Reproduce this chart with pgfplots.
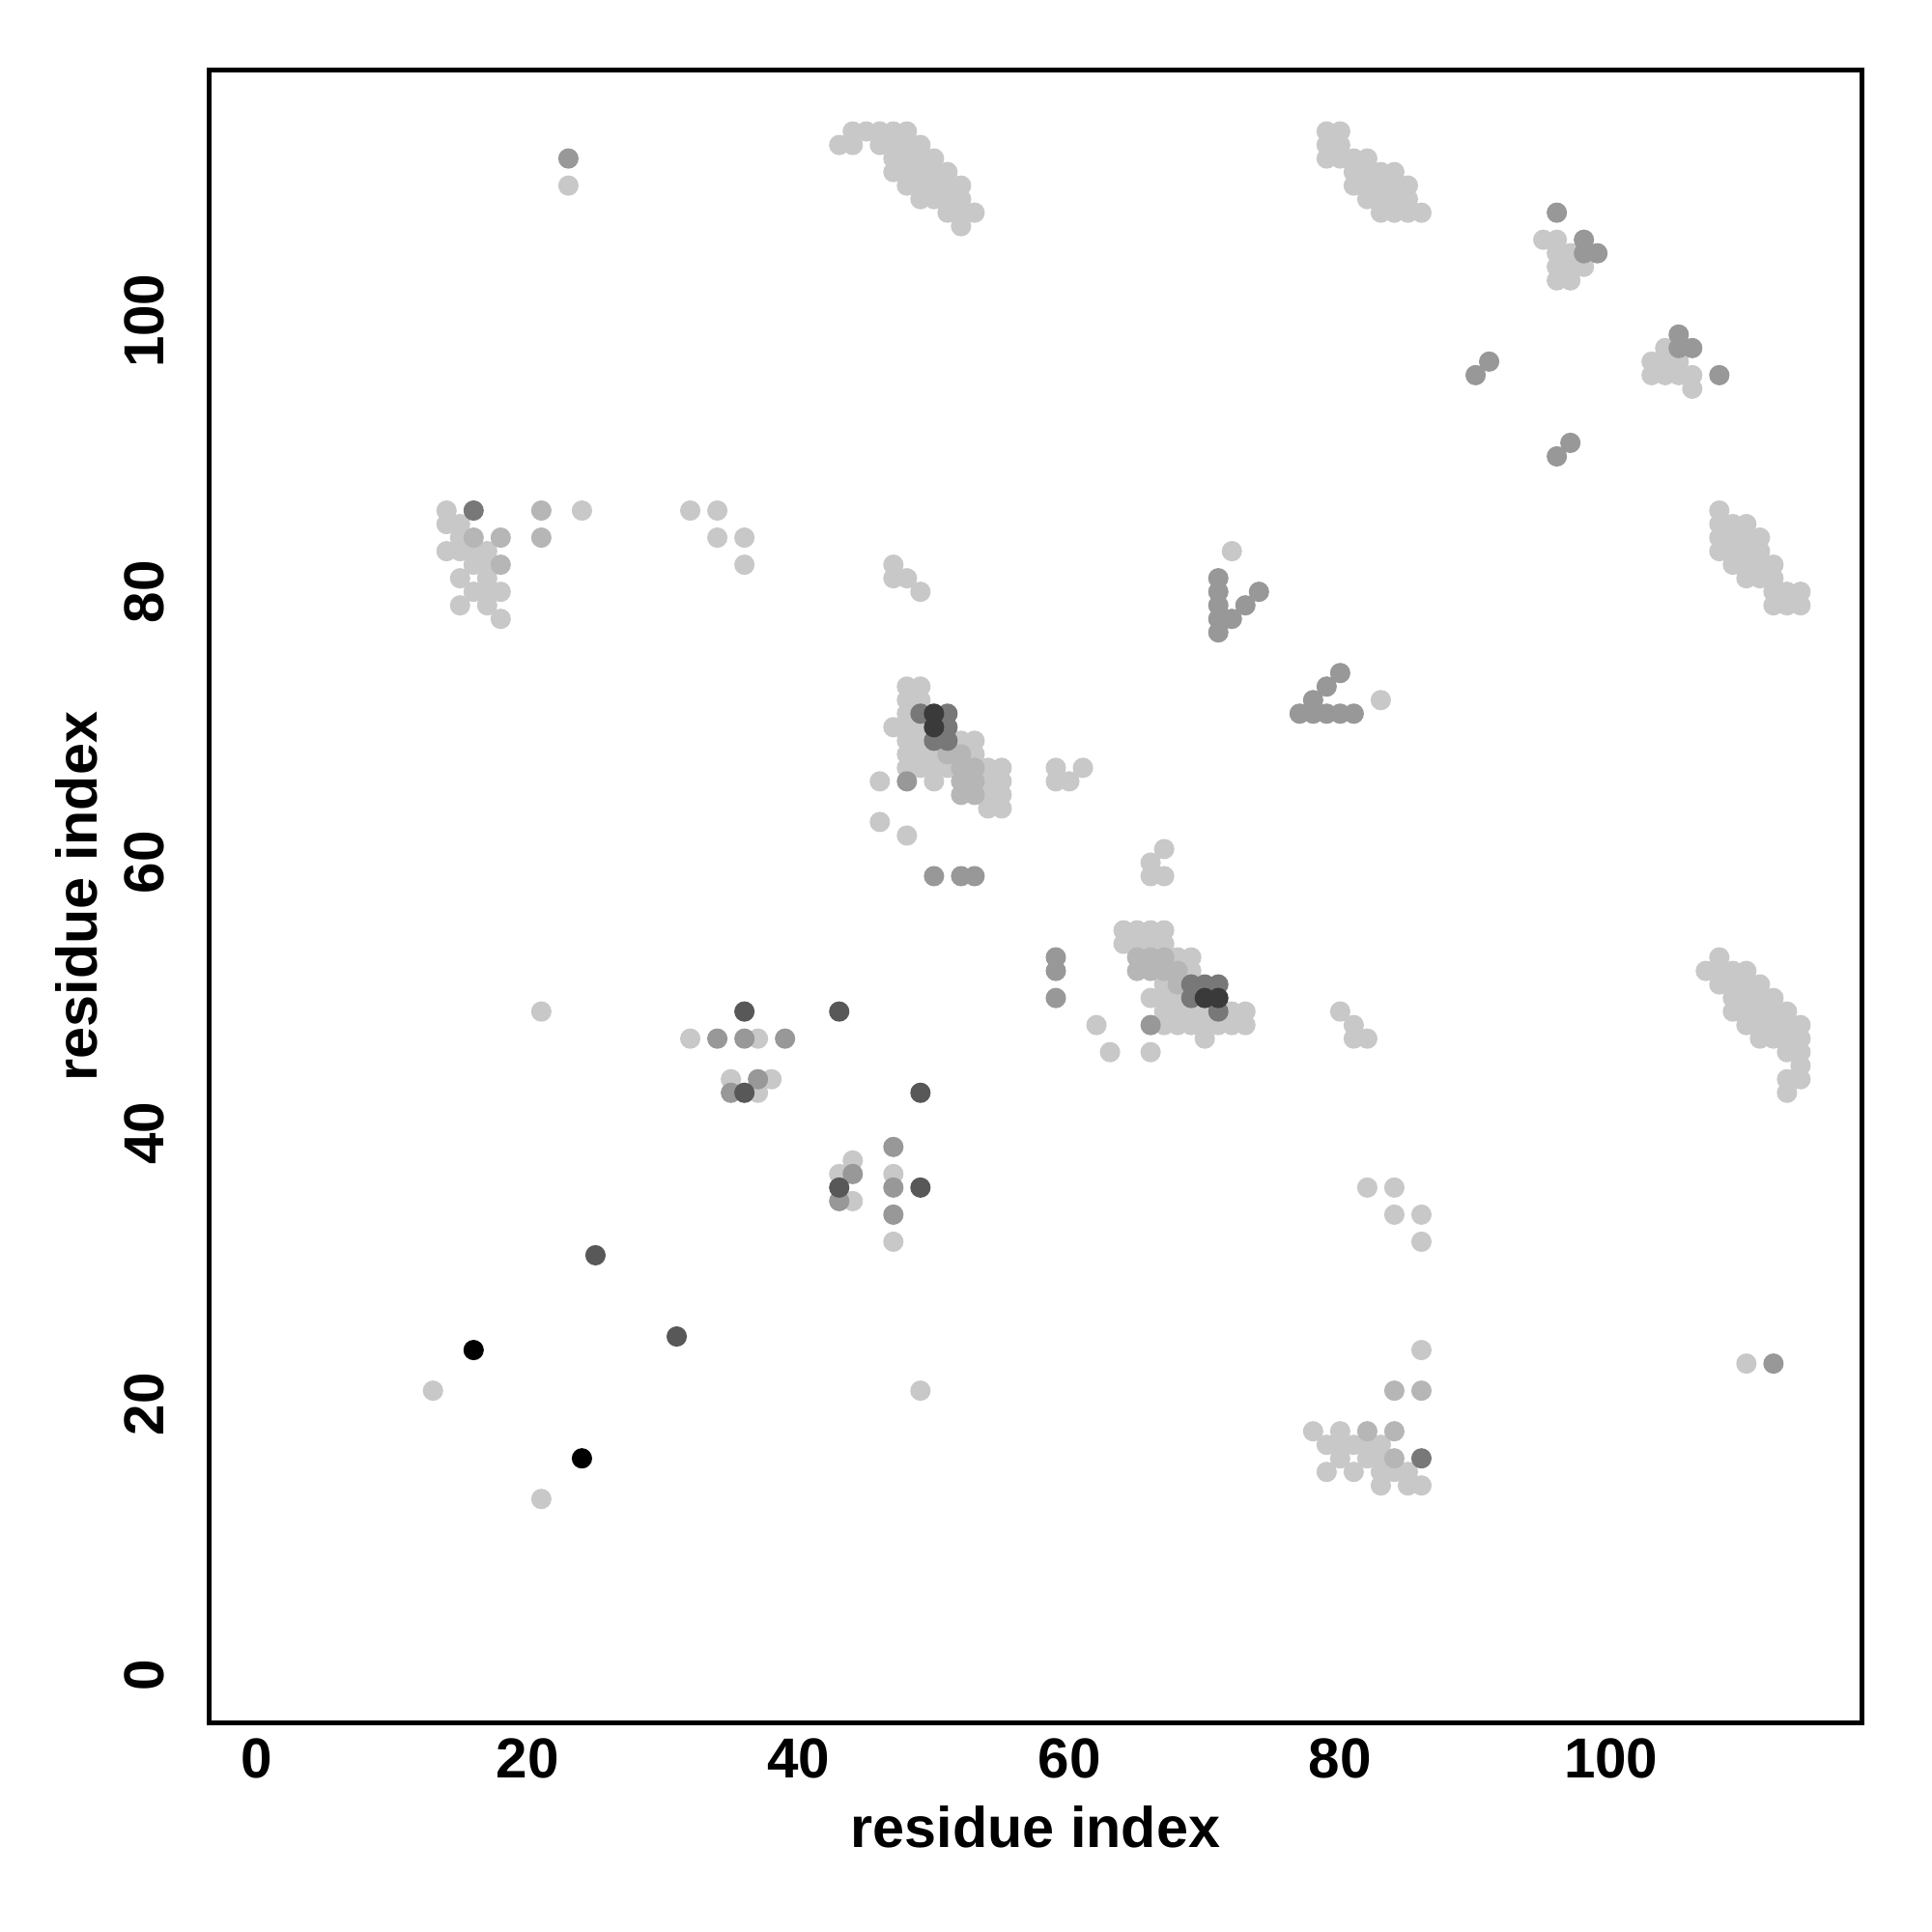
\documentclass[border=0pt]{standalone}
\usepackage{fontspec}
\setmainfont{Liberation Sans}
\usepackage{pgfplots}
\usepackage{pgfplotstable}
\pgfplotsset{compat=1.18}
\definecolor{c1}{RGB}{200,200,200}
\definecolor{c2}{RGB}{182,182,182}
\definecolor{c3}{RGB}{152,152,152}
\definecolor{c4}{RGB}{120,120,120}
\definecolor{c5}{RGB}{88,88,88}
\definecolor{c6}{RGB}{58,58,58}
\definecolor{c7}{RGB}{0,0,0}
% contact map is symmetric: upper triangle listed, mirrored when plotted
\pgfplotstableread{
a b
44 114
45 114
46 114
47 114
48 114
43 113
44 113
46 113
47 113
48 113
49 113
47 112
48 112
49 112
50 112
47 111
48 111
49 111
50 111
51 111
48 110
49 110
50 110
51 110
52 110
49 109
50 109
51 109
52 109
51 108
52 108
53 108
52 107
79 114
80 114
79 113
80 113
79 112
80 112
81 112
82 112
81 111
82 111
83 111
84 111
81 110
82 110
83 110
84 110
85 110
82 109
83 109
84 109
85 109
83 108
84 108
85 108
86 108
95 106
96 106
96 105
97 105
96 104
97 104
98 104
96 103
97 103
23 110
14 86
24 86
14 85
15 85
15 84
14 83
15 83
16 83
17 83
16 82
17 82
15 81
17 81
16 80
17 80
18 80
15 79
17 79
18 78
32 86
34 86
34 84
36 84
36 82
47 82
47 81
48 81
49 80
48 73
49 73
48 72
49 72
48 71
47 70
48 70
49 70
48 69
49 69
52 69
53 69
48 68
49 68
50 68
53 68
48 67
49 67
50 67
51 67
54 67
55 67
46 66
50 66
54 66
55 66
54 65
55 65
54 64
55 64
46 63
48 62
59 66
60 66
59 67
61 67
72 83
32 47
37 47
35 44
38 44
37 43
21 49
13 21
}\tabA
\pgfplotstableread{
a b
21 86
21 84
16 84
18 84
18 82
51 68
52 68
52 67
53 67
52 66
53 66
52 65
53 65
}\tabB
\pgfplotstableread{
a b
23 112
96 108
98 106
98 105
99 105
90 96
91 97
71 77
71 78
71 79
71 80
71 81
72 78
73 79
74 80
48 66
50 59
52 59
53 59
34 47
36 47
39 47
37 44
35 43
}\tabC
\pgfplotstableread{
a b
16 86
49 71
51 71
50 69
51 69
51 70
}\tabD
\pgfplotstableread{
a b
25 31
43 49
36 49
36 43
}\tabE
\pgfplotstableread{
a b
50 71
50 70
}\tabF
\pgfplotstableread{
a b
16 24
}\tabG
\begin{document}
\begin{tikzpicture}
\begin{axis}[
  scale only axis, width=357.6pt, height=357.6pt,
  xmin=-3.52, xmax=118.52, ymin=-3.52, ymax=118.52,
  xtick={0,20,...,100}, ytick={0,20,...,100},
  major tick length=0pt,
  axis line style={line width=1.1pt},
  tick label style={font=\fontsize{12.2}{14}\selectfont\bfseries},
  label style={font=\fontsize{12.4}{14}\selectfont\bfseries},
  /pgf/number format/assume math mode=true,
  xticklabel style={anchor=center, yshift=-7.7pt},
  yticklabel style={xshift=-14pt, rotate=90, anchor=center},
  xlabel={residue index}, ylabel={residue index},
  xlabel style={at={(axis description cs:0.5,-0.0634)}, anchor=center},
  ylabel style={at={(axis description cs:-0.0805,0.5)}, anchor=center},
  clip=false,
]
\addplot[only marks, mark=*, mark size=2pt, color=c1, mark options={draw=none}] table[x=a,y=b]{\tabA};
\addplot[only marks, mark=*, mark size=2pt, color=c1, mark options={draw=none}] table[x=b,y=a]{\tabA};
\addplot[only marks, mark=*, mark size=2pt, color=c2, mark options={draw=none}] table[x=a,y=b]{\tabB};
\addplot[only marks, mark=*, mark size=2pt, color=c2, mark options={draw=none}] table[x=b,y=a]{\tabB};
\addplot[only marks, mark=*, mark size=2pt, color=c3, mark options={draw=none}] table[x=a,y=b]{\tabC};
\addplot[only marks, mark=*, mark size=2pt, color=c3, mark options={draw=none}] table[x=b,y=a]{\tabC};
\addplot[only marks, mark=*, mark size=2pt, color=c4, mark options={draw=none}] table[x=a,y=b]{\tabD};
\addplot[only marks, mark=*, mark size=2pt, color=c4, mark options={draw=none}] table[x=b,y=a]{\tabD};
\addplot[only marks, mark=*, mark size=2pt, color=c5, mark options={draw=none}] table[x=a,y=b]{\tabE};
\addplot[only marks, mark=*, mark size=2pt, color=c5, mark options={draw=none}] table[x=b,y=a]{\tabE};
\addplot[only marks, mark=*, mark size=2pt, color=c6, mark options={draw=none}] table[x=a,y=b]{\tabF};
\addplot[only marks, mark=*, mark size=2pt, color=c6, mark options={draw=none}] table[x=b,y=a]{\tabF};
\addplot[only marks, mark=*, mark size=2pt, color=c7, mark options={draw=none}] table[x=a,y=b]{\tabG};
\addplot[only marks, mark=*, mark size=2pt, color=c7, mark options={draw=none}] table[x=b,y=a]{\tabG};
\end{axis}
\path ([shift={(-45.3pt,-45.3pt)}]current axis.south west) rectangle ([shift={(15.2pt,15.2pt)}]current axis.north east);
\end{tikzpicture}
\end{document}
